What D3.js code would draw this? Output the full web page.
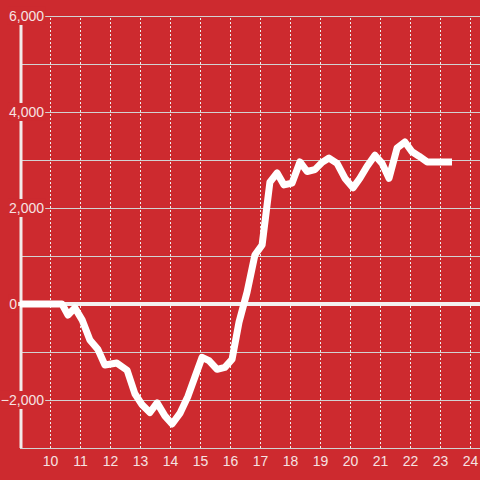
<!DOCTYPE html>
<html><head><meta charset="utf-8">
<script src="https://cdn.jsdelivr.net/npm/d3@7"></script>
<style>html,body{margin:0;padding:0;background:#cd2a2f;}svg{display:block;}</style>
</head><body>
<svg id="c" width="480" height="480"></svg>
<script>
const hours = [9.0,10.4,10.6,10.83,11.07,11.33,11.6,11.83,12.23,12.57,12.83,13.07,13.33,13.57,13.83,14.07,14.33,14.6,14.83,15.07,15.3,15.57,15.83,16.07,16.3,16.57,16.83,17.07,17.33,17.57,17.8,18.07,18.33,18.57,18.83,19.07,19.3,19.57,19.83,20.1,20.33,20.57,20.83,21.07,21.3,21.57,21.83,22.07,22.3,22.57,22.8,23.07,23.4];
const values = [0,0,-230,-80,-330,-750,-950,-1270,-1230,-1380,-1870,-2100,-2260,-2060,-2330,-2500,-2280,-1920,-1520,-1110,-1180,-1360,-1320,-1150,-380,250,1020,1230,2540,2730,2480,2520,2960,2760,2800,2950,3040,2930,2620,2420,2620,2870,3100,2930,2620,3250,3375,3170,3080,2960,2960,2960,2960];
const xTicks = [10,11,12,13,14,15,16,17,18,19,20,21,22,23,24];
const yTicks = [-3000,-2000,-1000,0,1000,2000,3000,4000,5000,6000];
const yLabelTicks = [-2000,0,2000,4000,6000];

const bg = "#cd2a2f", txt = "#f6e2e2";
const svg = d3.select("#c");
svg.append("rect").attr("width",480).attr("height",480).attr("fill",bg);

const x = d3.scaleLinear().domain([9, 24.3333]).range([20, 480]);
const y = d3.scaleLinear().domain([-3000, 6000]).range([448, 16]);

const gy = svg.append("g").attr("transform","translate(20,0)")
  .call(d3.axisLeft(y).tickValues(yTicks).tickSize(-460).tickFormat(""));
gy.select(".domain").remove();
gy.selectAll(".tick line").attr("stroke","#d2d2d2").attr("stroke-width",1);

const gx = svg.append("g").attr("transform","translate(0,448)")
  .call(d3.axisBottom(x).tickValues(xTicks).tickSize(-432).tickPadding(8).tickFormat(d3.format("d")));
gx.select(".domain").remove();
gx.selectAll(".tick line").attr("stroke","#eeeeee").attr("stroke-width",1).attr("stroke-dasharray","2,2");
gx.selectAll(".tick text").attr("fill",txt).attr("font-family","Liberation Sans, Arial, sans-serif").attr("font-size",14);

svg.append("line").attr("x1",21).attr("x2",21).attr("y1",y(6000)).attr("y2",y(-3000))
  .attr("stroke","#f2eaea").attr("stroke-width",3);

svg.append("line").attr("x1",17).attr("x2",480).attr("y1",y(0)).attr("y2",y(0))
  .attr("stroke","#f4f0f0").attr("stroke-width",4);

const line = d3.line().x((d,i)=>x(hours[i])).y(d=>y(d));
svg.append("path").datum(values).attr("d",line).attr("fill","none")
  .attr("stroke","#ffffff").attr("stroke-width",7).attr("stroke-linejoin","round").attr("stroke-linecap","butt");

const gl = svg.append("g").attr("transform","translate(20,0)")
  .call(d3.axisLeft(y).tickValues(yLabelTicks).tickSize(0).tickFormat(d3.format(",")));
gl.select(".domain").remove();
gl.selectAll(".tick text").attr("fill",txt).attr("font-family","Liberation Sans, Arial, sans-serif").attr("font-size",14)
  .attr("x", d => d === 0 ? -3 : 24).attr("text-anchor","end");
gl.selectAll(".tick").each(function(){
  const t = d3.select(this).select("text");
  const b = t.node().getBBox();
  d3.select(this).insert("rect","text").attr("x",b.x-1).attr("y",b.y-1).attr("width",b.width+2).attr("height",b.height+2).attr("fill",bg);
});
</script>
</body></html>
